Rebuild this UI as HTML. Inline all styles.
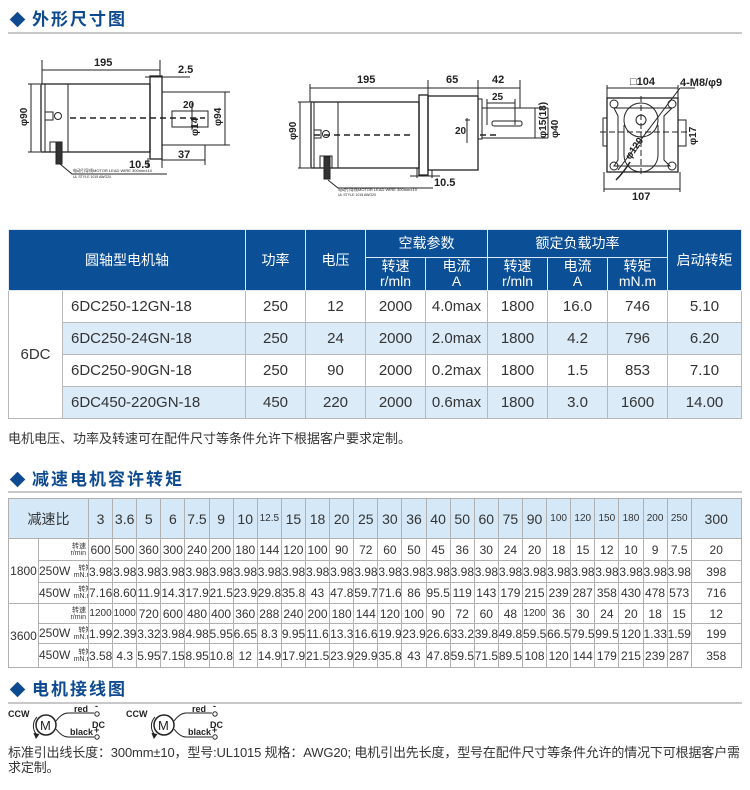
<!DOCTYPE html>
<html><head><meta charset="utf-8">
<style>
*{margin:0;padding:0;box-sizing:border-box}
body{width:750px;height:790px;background:#fff;position:relative;overflow:hidden;font-family:"Liberation Sans","Noto Sans CJK SC",sans-serif;color:#333}
.title{position:absolute;left:10px;font-weight:bold;font-size:17px;color:#0d4a8f;letter-spacing:2px;line-height:20px;font-family:"Noto Sans CJK SC","WenQuanYi Zen Hei",sans-serif}
.title .d{display:inline-block;width:11px;height:11px;background:#0d4a8f;transform:rotate(45deg);margin:0 9px 2px 2px;vertical-align:middle}
.hr{position:absolute;left:8px;width:734px;height:2px;background:#c8c8c8}
table{position:absolute;border-collapse:collapse;table-layout:fixed}
#t1{left:8px;top:229px;width:733px}
#t1 td{border:1px solid #b8b8b8;text-align:center;font-size:15px;color:#333;padding:0}
#t1 .h td{background:#0b4f97;color:#fff;font-size:14px;border-color:#dfe8f3;line-height:15px}
#t1 .b td{height:32px}
#t1 .alt td.c{background:#dcebf8}
#t1 td.m{text-align:left;padding-left:8px}
#t2{left:8px;top:498px;width:733px}
#t2 td{border:1px solid #b0b0b0;text-align:center;font-size:12px;color:#333;padding:0;white-space:nowrap;overflow:hidden}
#t2 .h td{background:#d5e8f7;font-size:14px;height:40px}
#t2 .h td.s{font-size:10px}
#t2 td.sm{font-size:10px}
#t2 .lb{text-align:right;padding-right:2px;font-size:12px}
.tiny{display:inline-block;font-size:7px;line-height:7px;text-align:right;vertical-align:middle}
.note{position:absolute;left:8px;font-size:13px;color:#333}
</style></head><body>

<div class="title" style="top:8px"><span class="d"></span>外形尺寸图</div>
<div class="hr" style="top:32px"></div>

<svg width="750" height="215" style="position:absolute;left:0;top:0" font-family="Liberation Sans, sans-serif" font-weight="bold" fill="none" stroke="#222" stroke-width="1">
 <rect x="41" y="84" width="109" height="68" stroke-width="1.3"/>
 <line x1="45" y1="84" x2="45" y2="152"/>
 <line x1="68" y1="84" x2="68" y2="152"/>
 <rect x="150" y="76" width="12" height="83" stroke-width="1.3"/>
 <rect x="162" y="92" width="63" height="53"/>
 <rect x="172" y="111" width="36" height="16"/>
 <line x1="70" y1="118" x2="205" y2="118" stroke-dasharray="6,4" stroke-width="1.5"/>
 <path d="M45 112 h8 v8 h-8" /><circle cx="58" cy="116" r="3.5"/>
 <path d="M50 152 v-10 h10 v10"/>
 <rect x="56" y="142" width="6" height="22" fill="#333"/>
 <path d="M60 164 l12 10 h95"/>
 <line x1="42" y1="60" x2="42" y2="84"/><line x1="160" y1="60" x2="160" y2="76"/>
 <line x1="42" y1="70" x2="160" y2="70"/>
 <line x1="145" y1="77" x2="190" y2="77"/>
 <line x1="28" y1="84" x2="40" y2="84"/><line x1="28" y1="152" x2="40" y2="152"/>
 <line x1="31" y1="84" x2="31" y2="152"/>
 <line x1="225" y1="92" x2="230" y2="92"/><line x1="225" y1="145" x2="230" y2="145"/>
 <line x1="225" y1="92" x2="225" y2="145"/>
 <line x1="192" y1="103" x2="192" y2="130"/>
 <line x1="162" y1="160" x2="205" y2="160"/><line x1="205" y1="145" x2="205" y2="165"/>
 <line x1="148" y1="158" x2="148" y2="168"/><line x1="162" y1="158" x2="162" y2="168"/>
 <g fill="#222" stroke="none" font-size="11">
  <text x="94" y="66">195</text><text x="178" y="73">2.5</text>
  <text x="183" y="108" font-size="10">20</text>
  <text x="129" y="168">10.5</text><text x="178" y="158">37</text>
  <text x="27" y="126" transform="rotate(-90 27 126)" font-size="10">φ90</text>
  <text x="221" y="126" transform="rotate(-90 221 126)" font-size="10">φ94</text>
  <text x="198" y="136" transform="rotate(-90 198 136)" font-size="10">φ14</text>
  <text x="73" y="172" font-size="4" font-weight="normal">电动引导线MOTOR LEAD WIRE 300mm±10</text>
  <text x="73" y="178" font-size="3.5" font-weight="normal">UL STYLE 1015 AWG20</text>
 </g>
 <rect x="311" y="102" width="108" height="66" stroke-width="1.3"/>
 <line x1="314" y1="102" x2="314" y2="168"/>
 <line x1="338" y1="102" x2="338" y2="168"/>
 <rect x="419" y="95" width="9" height="80" stroke-width="1.3"/>
 <rect x="428" y="96" width="50" height="74" stroke-width="1.3"/>
 <rect x="478" y="99" width="4" height="40"/>
 <line x1="482" y1="108" x2="548" y2="108"/><line x1="482" y1="138" x2="548" y2="138"/>
 <rect x="492" y="121" width="30" height="5" rx="2"/>
 <line x1="314" y1="135" x2="410" y2="135" stroke-dasharray="6,4" stroke-width="1.5"/>
 <line x1="480" y1="135" x2="500" y2="135" stroke-dasharray="6,4" stroke-width="1.5"/>
 <path d="M314 130 h7 v8 h-7"/><circle cx="326" cy="134" r="3.5"/>
 <path d="M320 168 v-12 h12 v12"/>
 <rect x="324" y="157" width="6" height="22" fill="#333"/>
 <path d="M328 180 l10 8 h95"/>
 <line x1="310" y1="84" x2="310" y2="102"/><line x1="428" y1="80" x2="428" y2="95"/><line x1="478" y1="80" x2="478" y2="99"/><line x1="520" y1="80" x2="520" y2="108"/>
 <line x1="310" y1="88" x2="520" y2="88"/>
 <line x1="487" y1="99" x2="487" y2="125"/><line x1="515" y1="99" x2="515" y2="125"/><line x1="487" y1="103" x2="515" y2="103"/>
 <line x1="298" y1="102" x2="310" y2="102"/><line x1="298" y1="168" x2="310" y2="168"/><line x1="300" y1="102" x2="300" y2="168"/>
 <line x1="465" y1="120" x2="470" y2="120"/><line x1="467" y1="118" x2="467" y2="143"/>
 <line x1="535" y1="108" x2="535" y2="138"/><line x1="548" y1="108" x2="548" y2="138"/>
 <line x1="417" y1="168" x2="417" y2="178"/><line x1="432" y1="170" x2="432" y2="178"/><line x1="410" y1="176" x2="440" y2="176"/>
 <g fill="#222" stroke="none" font-size="11">
  <text x="357" y="83">195</text><text x="446" y="83">65</text><text x="492" y="83">42</text>
  <text x="492" y="100" font-size="10">25</text>
  <text x="455" y="134" font-size="10">20</text>
  <text x="434" y="186">10.5</text>
  <text x="296" y="140" transform="rotate(-90 296 140)" font-size="10">φ90</text>
  <text x="546" y="138" transform="rotate(-90 546 138)" font-size="10">φ15(18)</text>
  <text x="558" y="138" transform="rotate(-90 558 138)" font-size="10">φ40</text>
  <text x="338" y="191" font-size="4" font-weight="normal">电动引导线MOTOR LEAD WIRE 300mm±10</text>
  <text x="338" y="196" font-size="3.5" font-weight="normal">UL STYLE 1015 AWG20</text>
 </g>
 <rect x="607" y="98" width="71" height="74" stroke-width="1.3"/>
 <path d="M614 108 h58 l-8 8 v44 l6 6 h-56 l4-6 v-44 z"/>
 <circle cx="641" cy="120" r="17"/><circle cx="641" cy="120" r="5"/>
 <path d="M624 125 v30 a17 17 0 0 0 34 0 v-30"/>
 <circle cx="614" cy="104" r="4"/><circle cx="672" cy="104" r="4"/><circle cx="614" cy="166" r="4"/><circle cx="672" cy="166" r="4"/>
 <line x1="600" y1="132" x2="690" y2="132" stroke-dasharray="6,3"/>
 <line x1="641" y1="96" x2="641" y2="176" stroke-dasharray="6,3"/>
 <line x1="618" y1="170" x2="680" y2="88"/><line x1="680" y1="88" x2="695" y2="88"/>
 <path d="M616 180 q8 -8 14 -18" stroke-width="1.5"/>
 <rect x="603" y="118" width="4" height="28"/><rect x="678" y="120" width="8" height="26"/>
 <line x1="607" y1="88" x2="678" y2="88"/><line x1="607" y1="85" x2="607" y2="98"/><line x1="678" y1="85" x2="678" y2="98"/>
 <line x1="604" y1="189" x2="680" y2="189"/><line x1="604" y1="172" x2="604" y2="192"/><line x1="680" y1="172" x2="680" y2="192"/>
 <g fill="#222" stroke="none" font-size="11">
  <text x="630" y="85">□104</text><text x="680" y="86">4-M8/φ9</text>
  <text x="632" y="200">107</text>
  <text x="696" y="145" transform="rotate(-90 696 145)" font-size="10">φ17</text>
  <text x="630" y="160" transform="rotate(-55 630 160)" font-size="10">φ120</text>
 </g>
</svg>

<table id="t1">
<colgroup><col style="width:54px"><col style="width:183px"><col style="width:60px"><col style="width:60px"><col style="width:60px"><col style="width:62px"><col style="width:60px"><col style="width:60px"><col style="width:60px"><col style="width:74px"></colgroup>
<tr class="h"><td colspan="2" rowspan="2">圆轴型电机轴</td><td rowspan="2">功率</td><td rowspan="2">电压</td><td colspan="2" style="height:28px">空载参数</td><td colspan="3">额定负载功率</td><td rowspan="2">启动转矩</td></tr>
<tr class="h"><td style="height:33px">转速<br>r/mln</td><td>电流<br>A</td><td>转速<br>r/mln</td><td>电流<br>A</td><td>转矩<br>mN.m</td></tr>
<tr class="b"><td rowspan="4">6DC</td><td class="c m">6DC250-12GN-18</td><td class="c">250</td><td class="c">12</td><td class="c">2000</td><td class="c">4.0max</td><td class="c">1800</td><td class="c">16.0</td><td class="c">746</td><td class="c">5.10</td></tr>
<tr class="b alt"><td class="c m">6DC250-24GN-18</td><td class="c">250</td><td class="c">24</td><td class="c">2000</td><td class="c">2.0max</td><td class="c">1800</td><td class="c">4.2</td><td class="c">796</td><td class="c">6.20</td></tr>
<tr class="b"><td class="c m">6DC250-90GN-18</td><td class="c">250</td><td class="c">90</td><td class="c">2000</td><td class="c">0.2max</td><td class="c">1800</td><td class="c">1.5</td><td class="c">853</td><td class="c">7.10</td></tr>
<tr class="b alt"><td class="c m">6DC450-220GN-18</td><td class="c">450</td><td class="c">220</td><td class="c">2000</td><td class="c">0.6max</td><td class="c">1800</td><td class="c">3.0</td><td class="c">1600</td><td class="c">14.00</td></tr>
</table>
<div class="note" style="top:428px">电机电压、功率及转速可在配件尺寸等条件允许下根据客户要求定制。</div>

<div class="title" style="top:468px"><span class="d"></span>减速电机容许转矩</div>
<div class="hr" style="top:491px"></div>

<table id="t2">
<colgroup><col style="width:30px"><col style="width:50px">
<col style="width:24.12px"><col style="width:24.12px"><col style="width:24.12px"><col style="width:24.12px"><col style="width:24.12px"><col style="width:24.12px"><col style="width:24.12px"><col style="width:24.12px"><col style="width:24.12px"><col style="width:24.12px"><col style="width:24.12px"><col style="width:24.12px"><col style="width:24.12px"><col style="width:24.12px"><col style="width:24.12px"><col style="width:24.12px"><col style="width:24.12px"><col style="width:24.12px"><col style="width:24.12px"><col style="width:24.12px"><col style="width:24.12px"><col style="width:24.12px"><col style="width:24.12px"><col style="width:24.12px"><col style="width:24.12px">
<col style="width:50px"></colgroup>
<tr class="h"><td colspan="2">减速比</td><td>3</td><td>3.6</td><td>5</td><td>6</td><td>7.5</td><td>9</td><td>10</td><td class="s">12.5</td><td>15</td><td>18</td><td>20</td><td>25</td><td>30</td><td>36</td><td>40</td><td>50</td><td>60</td><td>75</td><td>90</td><td class="s">100</td><td class="s">120</td><td class="s">150</td><td class="s">180</td><td class="s">200</td><td class="s">250</td><td>300</td></tr>
<tr style="height:22px"><td rowspan="3">1800</td><td class="lb"><span class="tiny">转速<br>r/min</span></td><td>600</td><td>500</td><td>360</td><td>300</td><td>240</td><td>200</td><td>180</td><td>144</td><td>120</td><td>100</td><td>90</td><td>72</td><td>60</td><td>50</td><td>45</td><td>36</td><td>30</td><td>24</td><td>20</td><td>18</td><td>15</td><td>12</td><td>10</td><td>9</td><td>7.5</td><td>20</td></tr>
<tr style="height:22px"><td class="lb">250W <span class="tiny">转矩<br>mN.m</span></td><td>3.98</td><td>3.98</td><td>3.98</td><td>3.98</td><td>3.98</td><td>3.98</td><td>3.98</td><td>3.98</td><td>3.98</td><td>3.98</td><td>3.98</td><td>3.98</td><td>3.98</td><td>3.98</td><td>3.98</td><td>3.98</td><td>3.98</td><td>3.98</td><td>3.98</td><td>3.98</td><td>3.98</td><td>3.98</td><td>3.98</td><td>3.98</td><td>3.98</td><td>398</td></tr>
<tr style="height:21px"><td class="lb">450W <span class="tiny">转矩<br>mN.m</span></td><td>7.16</td><td>8.60</td><td>11.9</td><td>14.3</td><td>17.9</td><td>21.5</td><td>23.9</td><td>29.8</td><td>35.8</td><td>43</td><td>47.8</td><td>59.7</td><td>71.6</td><td>86</td><td>95.5</td><td>119</td><td>143</td><td>179</td><td>215</td><td>239</td><td>287</td><td>358</td><td>430</td><td>478</td><td>573</td><td>716</td></tr>
<tr style="height:20px"><td rowspan="3">3600</td><td class="lb"><span class="tiny">转速<br>r/min</span></td><td class="sm">1200</td><td class="sm">1000</td><td>720</td><td>600</td><td>480</td><td>400</td><td>360</td><td>288</td><td>240</td><td>200</td><td>180</td><td>144</td><td>120</td><td>100</td><td>90</td><td>72</td><td>60</td><td>48</td><td class="sm">1200</td><td>36</td><td>30</td><td>24</td><td>20</td><td>18</td><td>15</td><td>12</td></tr>
<tr style="height:20px"><td class="lb">250W <span class="tiny">转矩<br>mN.m</span></td><td>1.99</td><td>2.39</td><td>3.32</td><td>3.98</td><td>4.98</td><td>5.95</td><td>6.65</td><td>8.3</td><td>9.95</td><td>11.6</td><td>13.3</td><td>16.6</td><td>19.9</td><td>23.9</td><td>26.6</td><td>33.2</td><td>39.8</td><td>49.8</td><td>59.5</td><td>66.5</td><td>79.5</td><td>99.5</td><td>120</td><td>1.33</td><td>1.59</td><td>199</td></tr>
<tr style="height:24px"><td class="lb">450W <span class="tiny">转矩<br>mN.m</span></td><td>3.58</td><td>4.3</td><td>5.95</td><td>7.15</td><td>8.95</td><td>10.8</td><td>12</td><td>14.9</td><td>17.9</td><td>21.5</td><td>23.9</td><td>29.9</td><td>35.8</td><td>43</td><td>47.8</td><td>59.5</td><td>71.5</td><td>89.5</td><td>108</td><td>120</td><td>144</td><td>179</td><td>215</td><td>239</td><td>287</td><td>358</td></tr>
</table>

<div class="title" style="top:678px"><span class="d"></span>电机接线图</div>
<div class="hr" style="top:702px"></div>

<svg width="260" height="40" style="position:absolute;left:0;top:705px" font-family="Liberation Sans, sans-serif" font-weight="bold" font-size="9" fill="none" stroke="#222">
 <g id="w">
  <text x="8" y="12" fill="#222" stroke="none">CCW</text>
  <circle cx="46" cy="20" r="10" stroke-width="1.5"/>
  <text x="40" y="25" fill="#222" stroke="none" font-size="13" font-weight="normal">M</text>
  <path d="M37 12 a13 13 0 0 0 0 18" /><path d="M34 28 l2 5 l3 -4" fill="#222"/>
  <path d="M56 16 q6 -8 12 -8 h26"/><path d="M56 24 q6 8 12 8 h26"/>
  <circle cx="97" cy="9" r="2.2"/><circle cx="97" cy="32" r="2.2"/>
  <text x="74" y="7" fill="#222" stroke="none">red</text>
  <text x="70" y="30" fill="#222" stroke="none">black</text>
  <text x="92" y="23" fill="#222" stroke="none">DC</text>
  <text x="95" y="4" fill="#222" stroke="none">-</text>
  <text x="94" y="28" fill="#222" stroke="none">+</text>
 </g>
 <use href="#w" x="118"/>
</svg>

<div class="note" style="top:745px;width:742px;font-size:13px;letter-spacing:-0.15px;line-height:15px">标准引出线长度：300mm±10，型号:UL1015 规格：AWG20; 电机引出先长度，型号在配件尺寸等条件允许的情况下可根据客户需求定制。</div>
</body></html>
